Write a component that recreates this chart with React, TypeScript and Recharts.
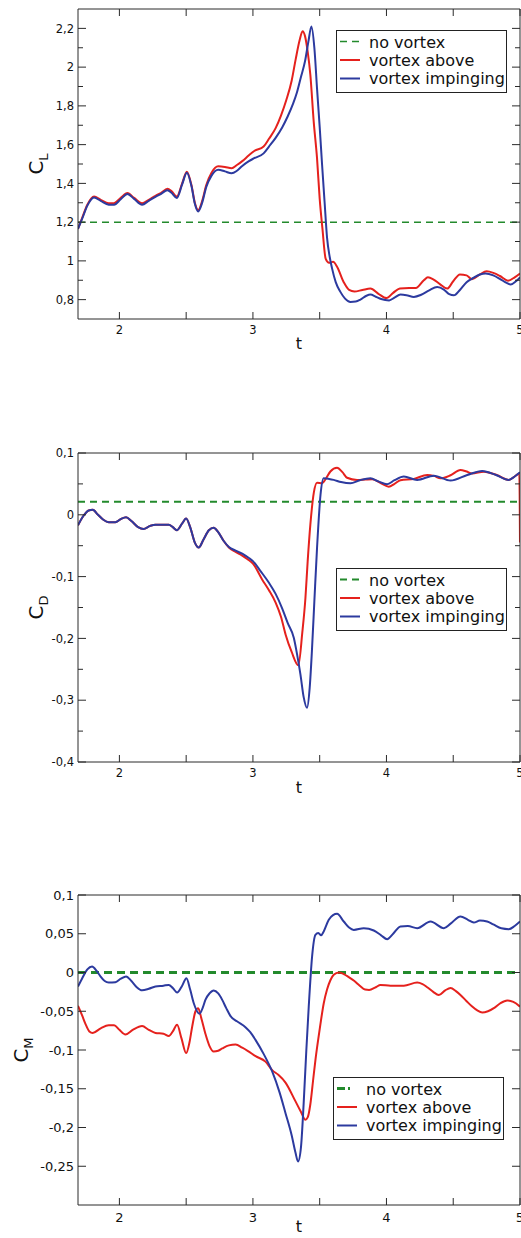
import React from 'react';
import { LineChart, Line, XAxis, YAxis, Legend } from 'recharts';

type Pt = [number, number];

// ---------- shared axis data ----------
const X_DOMAIN: [number, number] = [1.69, 5.0];
const X_TICKS = [2, 2.5, 3, 3.5, 4, 4.5, 5];
const X_LABELED = [2, 3, 4, 5];
const LEGEND_LABELS = ['no vortex', 'vortex above', 'vortex impinging'];

// ---------- C_L ----------
const CL_Y_DOMAIN: [number, number] = [0.7, 2.3];
const CL_Y_TICKS = [0.8, 0.9, 1.0, 1.1, 1.2, 1.3, 1.4, 1.5, 1.6, 1.7, 1.8, 1.9, 2.0, 2.1, 2.2];
const CL_Y_LABELED = [0.8, 1.0, 1.2, 1.4, 1.6, 1.8, 2.0, 2.2];
const clNone: Pt[] = [[1.69, 1.2], [5.0, 1.2]];
const clAbove: Pt[] = [
  [1.69, 1.165], [1.72, 1.22], [1.76, 1.29], [1.81, 1.332], [1.86, 1.315], [1.92, 1.297],
  [1.96, 1.298], [2.01, 1.325], [2.06, 1.35], [2.11, 1.325], [2.17, 1.297], [2.22, 1.315],
  [2.27, 1.336], [2.31, 1.35], [2.36, 1.372], [2.39, 1.36], [2.43, 1.332], [2.47, 1.4],
  [2.505, 1.46], [2.54, 1.39], [2.565, 1.3], [2.59, 1.262], [2.62, 1.31], [2.65, 1.39],
  [2.69, 1.455], [2.74, 1.488], [2.79, 1.485], [2.84, 1.478], [2.88, 1.495], [2.92, 1.515],
  [2.97, 1.545], [3.01, 1.567], [3.08, 1.59], [3.12, 1.63], [3.17, 1.685], [3.21, 1.75],
  [3.25, 1.83], [3.29, 1.93], [3.32, 2.04], [3.35, 2.14], [3.372, 2.185], [3.39, 2.16],
  [3.41, 2.08], [3.43, 1.96], [3.455, 1.72], [3.48, 1.53], [3.5, 1.32], [3.52, 1.17],
  [3.545, 1.01], [3.57, 0.99], [3.6, 0.995], [3.63, 0.97], [3.68, 0.89], [3.72, 0.85],
  [3.76, 0.842], [3.82, 0.85], [3.88, 0.857], [3.94, 0.83], [4.0, 0.808], [4.05, 0.835],
  [4.1, 0.857], [4.17, 0.86], [4.22, 0.86], [4.28, 0.9], [4.31, 0.915], [4.35, 0.905],
  [4.4, 0.88], [4.455, 0.857], [4.5, 0.895], [4.55, 0.93], [4.6, 0.925], [4.64, 0.905],
  [4.7, 0.93], [4.75, 0.946], [4.8, 0.938], [4.85, 0.922], [4.91, 0.898], [4.96, 0.915],
  [5.0, 0.935],
];
const clImpinging: Pt[] = [
  [1.69, 1.165], [1.72, 1.215], [1.76, 1.285], [1.81, 1.327], [1.86, 1.31], [1.92, 1.29],
  [1.96, 1.29], [2.01, 1.318], [2.06, 1.345], [2.11, 1.32], [2.17, 1.29], [2.22, 1.31],
  [2.27, 1.33], [2.31, 1.345], [2.36, 1.365], [2.39, 1.352], [2.43, 1.325], [2.47, 1.395],
  [2.505, 1.455], [2.54, 1.385], [2.565, 1.295], [2.59, 1.255], [2.62, 1.3], [2.65, 1.38],
  [2.69, 1.44], [2.74, 1.47], [2.79, 1.462], [2.84, 1.452], [2.88, 1.465], [2.92, 1.49],
  [2.97, 1.515], [3.01, 1.53], [3.08, 1.555], [3.12, 1.59], [3.17, 1.635], [3.22, 1.69],
  [3.26, 1.745], [3.3, 1.81], [3.33, 1.87], [3.36, 1.95], [3.39, 2.03], [3.415, 2.13],
  [3.438, 2.21], [3.46, 2.1], [3.48, 1.89], [3.5, 1.69], [3.518, 1.495], [3.537, 1.3],
  [3.555, 1.12], [3.575, 1.02], [3.593, 0.96], [3.62, 0.89], [3.655, 0.84], [3.69, 0.805],
  [3.73, 0.788], [3.77, 0.79], [3.805, 0.8], [3.85, 0.82], [3.88, 0.826], [3.92, 0.815],
  [3.96, 0.803], [4.02, 0.796], [4.06, 0.81], [4.105, 0.826], [4.15, 0.823], [4.205, 0.814],
  [4.26, 0.825], [4.32, 0.848], [4.38, 0.865], [4.43, 0.852], [4.47, 0.828], [4.505, 0.822],
  [4.55, 0.85], [4.6, 0.89], [4.65, 0.912], [4.7, 0.93], [4.742, 0.935], [4.8, 0.925],
  [4.854, 0.905], [4.9, 0.886], [4.93, 0.878], [4.97, 0.895], [5.0, 0.915],
];

// ---------- C_D ----------
const CD_Y_DOMAIN: [number, number] = [-0.4, 0.1];
const CD_Y_TICKS = [-0.4, -0.35, -0.3, -0.25, -0.2, -0.15, -0.1, -0.05, 0, 0.05, 0.1];
const CD_Y_LABELED = [-0.4, -0.3, -0.2, -0.1, 0, 0.1];
const cdNone: Pt[] = [[1.69, 0.021], [5.0, 0.021]];
const cdAbove: Pt[] = [
  [1.69, -0.017], [1.73, -0.002], [1.77, 0.007], [1.8, 0.008], [1.84, 0.0], [1.88, -0.008],
  [1.92, -0.012], [1.97, -0.012], [2.01, -0.007], [2.05, -0.004], [2.09, -0.01], [2.14, -0.02],
  [2.18, -0.023], [2.23, -0.018], [2.27, -0.016], [2.37, -0.016], [2.4, -0.02], [2.43, -0.025],
  [2.47, -0.014], [2.5, -0.006], [2.53, -0.02], [2.565, -0.045], [2.594, -0.053], [2.63, -0.04],
  [2.67, -0.025], [2.706, -0.021], [2.74, -0.028], [2.78, -0.042], [2.82, -0.053], [2.87, -0.06],
  [2.92, -0.066], [2.96, -0.072], [3.0, -0.079], [3.07, -0.105], [3.12, -0.122], [3.17, -0.142],
  [3.21, -0.165], [3.245, -0.194], [3.29, -0.222], [3.34, -0.2435], [3.37, -0.19], [3.393, -0.135],
  [3.41, -0.075], [3.43, -0.016], [3.456, 0.036], [3.48, 0.052], [3.518, 0.051], [3.545, 0.058],
  [3.58, 0.07], [3.63, 0.076], [3.67, 0.069], [3.705, 0.06], [3.78, 0.0565], [3.84, 0.057],
  [3.893, 0.0575], [3.96, 0.051], [4.017, 0.0455], [4.06, 0.05], [4.105, 0.056], [4.205, 0.058],
  [4.305, 0.0645], [4.355, 0.063], [4.405, 0.059], [4.48, 0.064], [4.554, 0.0726], [4.6, 0.07],
  [4.64, 0.067], [4.73, 0.0697], [4.83, 0.064], [4.916, 0.0565], [4.96, 0.062], [4.995, 0.067],
  [5.0, -0.045],
];
const cdImpinging: Pt[] = [
  [1.69, -0.017], [1.73, -0.002], [1.77, 0.007], [1.8, 0.008], [1.84, 0.0], [1.88, -0.008],
  [1.92, -0.012], [1.97, -0.012], [2.01, -0.007], [2.05, -0.004], [2.09, -0.01], [2.14, -0.02],
  [2.18, -0.023], [2.23, -0.018], [2.27, -0.016], [2.37, -0.016], [2.4, -0.02], [2.43, -0.025],
  [2.47, -0.014], [2.5, -0.006], [2.53, -0.02], [2.565, -0.045], [2.594, -0.053], [2.63, -0.04],
  [2.67, -0.025], [2.706, -0.021], [2.74, -0.028], [2.78, -0.042], [2.82, -0.052], [2.87, -0.058],
  [2.92, -0.063], [2.97, -0.07], [3.0, -0.075], [3.06, -0.092], [3.12, -0.11], [3.17, -0.128],
  [3.218, -0.151], [3.26, -0.175], [3.306, -0.199], [3.33, -0.225], [3.356, -0.2585], [3.38, -0.295],
  [3.405, -0.3123], [3.425, -0.28], [3.443, -0.215], [3.46, -0.14], [3.48, -0.054], [3.506, 0.032],
  [3.53, 0.059], [3.57, 0.058], [3.605, 0.0565], [3.66, 0.053], [3.73, 0.051], [3.8, 0.056],
  [3.88, 0.0593], [3.94, 0.054], [4.005, 0.0495], [4.06, 0.056], [4.13, 0.0619], [4.23, 0.0565],
  [4.355, 0.0633], [4.48, 0.0554], [4.605, 0.0645], [4.717, 0.071], [4.82, 0.0645], [4.916, 0.0565],
  [4.96, 0.062], [5.0, 0.0688],
];

// ---------- C_M ----------
const CM_Y_DOMAIN: [number, number] = [-0.3, 0.1];
const CM_Y_TICKS = [-0.25, -0.2, -0.15, -0.1, -0.05, 0, 0.05, 0.1];
const CM_Y_LABELED = [-0.25, -0.2, -0.15, -0.1, -0.05, 0, 0.05, 0.1];
const cmNone: Pt[] = [[1.69, 0.0], [5.0, 0.0]];
const cmAbove: Pt[] = [
  [1.69, -0.043], [1.72, -0.055], [1.745, -0.066], [1.775, -0.076], [1.8, -0.078], [1.86, -0.072],
  [1.92, -0.068], [1.96, -0.068], [2.0, -0.074], [2.045, -0.08], [2.1, -0.074], [2.17, -0.069],
  [2.22, -0.074], [2.27, -0.078], [2.33, -0.079], [2.37, -0.082], [2.4, -0.076], [2.432, -0.0675],
  [2.465, -0.085], [2.5, -0.104], [2.525, -0.09], [2.545, -0.07], [2.57, -0.05], [2.59, -0.046],
  [2.615, -0.06], [2.644, -0.079], [2.675, -0.095], [2.706, -0.102], [2.74, -0.101], [2.77, -0.098],
  [2.82, -0.094], [2.87, -0.093], [2.92, -0.097], [2.96, -0.101], [3.02, -0.108], [3.094, -0.115],
  [3.144, -0.126], [3.19, -0.132], [3.244, -0.142], [3.318, -0.166], [3.36, -0.18], [3.393, -0.19],
  [3.41, -0.187], [3.43, -0.17], [3.45, -0.14], [3.468, -0.113], [3.49, -0.085], [3.506, -0.066],
  [3.53, -0.04], [3.555, -0.022], [3.58, -0.01], [3.605, -0.003], [3.643, 0.0], [3.68, -0.002],
  [3.718, -0.006], [3.76, -0.011], [3.8, -0.017], [3.84, -0.022], [3.87, -0.0225], [3.92, -0.019],
  [3.955, -0.016], [4.03, -0.017], [4.13, -0.017], [4.23, -0.013], [4.27, -0.015], [4.305, -0.019],
  [4.35, -0.025], [4.392, -0.029], [4.44, -0.023], [4.48, -0.02], [4.52, -0.024], [4.554, -0.029],
  [4.6, -0.037], [4.642, -0.044], [4.68, -0.049], [4.717, -0.0516], [4.76, -0.05], [4.804, -0.046],
  [4.85, -0.04], [4.904, -0.0361], [4.95, -0.038], [5.0, -0.044],
];
const cmImpinging: Pt[] = [
  [1.69, -0.018], [1.72, -0.008], [1.76, 0.004], [1.795, 0.0077], [1.83, 0.002], [1.858, -0.005],
  [1.89, -0.011], [1.92, -0.0129], [1.97, -0.0125], [2.01, -0.008], [2.05, -0.005], [2.09, -0.011],
  [2.13, -0.019], [2.17, -0.023], [2.22, -0.021], [2.27, -0.018], [2.33, -0.017], [2.37, -0.016],
  [2.4, -0.02], [2.432, -0.0258], [2.47, -0.017], [2.502, -0.0073], [2.53, -0.022], [2.557, -0.0396],
  [2.6, -0.0533], [2.625, -0.045], [2.644, -0.0353], [2.675, -0.027], [2.706, -0.0232], [2.74, -0.027],
  [2.77, -0.0353], [2.8, -0.046], [2.831, -0.0559], [2.88, -0.063], [2.944, -0.0705], [2.98, -0.077],
  [3.019, -0.0869], [3.08, -0.105], [3.144, -0.1277], [3.2, -0.155], [3.244, -0.1815], [3.29, -0.21],
  [3.318, -0.232], [3.338, -0.2439], [3.36, -0.225], [3.38, -0.1686], [3.4, -0.1], [3.418, -0.0439],
  [3.443, 0.0206], [3.468, 0.0486], [3.49, 0.051], [3.51, 0.048], [3.53, 0.053], [3.568, 0.068],
  [3.6, 0.074], [3.63, 0.0757], [3.68, 0.0658], [3.72, 0.058], [3.755, 0.055], [3.83, 0.0572],
  [3.905, 0.0542], [3.96, 0.048], [4.005, 0.043], [4.05, 0.05], [4.105, 0.0594], [4.16, 0.06],
  [4.23, 0.0572], [4.33, 0.0658], [4.43, 0.0572], [4.48, 0.063], [4.554, 0.0723], [4.61, 0.068],
  [4.654, 0.0645], [4.7, 0.067], [4.754, 0.0658], [4.8, 0.062], [4.86, 0.057], [4.916, 0.0559],
  [4.96, 0.06], [5.0, 0.0658],
];

// ---------- styling ----------
const FONT = '"DejaVu Sans", "Liberation Sans", sans-serif';
const RED = '#e5211d';
const BLUE = '#2c3a9f';
const GREEN = '#238a2c';
const AXIS = '#2a2a2a';

const toRows = (pts: Pt[]) => pts.map(([t, v]) => ({ t, v }));
const fmt = (v: number) => String(Math.round(v * 1000) / 1000).replace('.', ',');
const isIn = (list: number[], v: number) => list.some((l) => Math.abs(l - v) < 1e-9);

const LeftTick = (props: any) => {
  const { x, y, payload, labeled, font } = props;
  const major = isIn(labeled, payload.value);
  return (
    <g>
      <line x1={x} y1={y} x2={x + (major ? 8 : 5)} y2={y} stroke={AXIS} strokeWidth={1} />
      {major && (
        <text x={x - 4} y={y + font * 0.36} textAnchor="end" fontSize={font} fontFamily={FONT} fill="#111">
          {fmt(payload.value)}
        </text>
      )}
    </g>
  );
};

const RightTick = (props: any) => {
  const { x, y, payload, labeled } = props;
  const major = isIn(labeled, payload.value);
  return <line x1={x} y1={y} x2={x - (major ? 8 : 5)} y2={y} stroke={AXIS} strokeWidth={1} />;
};

const BottomTick = (props: any) => {
  const { x, y, payload, font, base } = props;
  const major = isIn(X_LABELED, payload.value);
  return (
    <g>
      <line x1={x} y1={y} x2={x} y2={y - 7} stroke={AXIS} strokeWidth={1} />
      {major && (
        <text x={x} y={y + base} textAnchor="middle" fontSize={font} fontFamily={FONT} fill="#111">
          {fmt(payload.value)}
        </text>
      )}
    </g>
  );
};

const TopTick = (props: any) => {
  const { x, y } = props;
  return <line x1={x} y1={y} x2={x} y2={y + 7} stroke={AXIS} strokeWidth={1} />;
};

const YTitle = (props: any) => {
  const { px, py, main, sub } = props;
  return (
    <text transform={`translate(${px},${py}) rotate(-90)`} textAnchor="middle" fontSize={20} fontFamily={FONT} fill="#111">
      {main}
      <tspan fontSize={13} dy={5}>{sub}</tspan>
    </text>
  );
};

const XTitle = (props: any) => {
  const { px, py } = props;
  return (
    <text x={px} y={py} textAnchor="middle" fontSize={16} fontFamily={FONT} fill="#111">
      t
    </text>
  );
};

const LegendBox = ({ dotted, noneWidth }: { dotted: boolean; noneWidth: number }) => {
  const colors = [GREEN, RED, BLUE];
  return (
    <svg width={172} height={64} style={{ display: 'block' }}>
      <rect x={0.5} y={0.5} width={170} height={62} fill="#fff" stroke="#222" strokeWidth={1} />
      {LEGEND_LABELS.map((label, i) => {
        const ly = 11.5 + i * 18.5;
        return (
          <g key={label}>
            <line
              x1={4}
              x2={24}
              y1={ly}
              y2={ly}
              stroke={colors[i]}
              strokeWidth={i === 0 ? noneWidth : 2}
              strokeDasharray={i === 0 ? (dotted ? '8 3 2 20' : '7 5') : undefined}
            />
            <text x={33} y={17.5 + i * 18} fontSize={16} fontFamily={FONT} fill="#111">
              {label}
            </text>
          </g>
        );
      })}
    </svg>
  );
};

type PanelProps = {
  top: number;
  height: number;
  plotTop: number;
  plotBottom: number;
  yDomain: [number, number];
  yTicks: number[];
  yLabeled: number[];
  font: number;
  xBase: number;
  tBase: number;
  above: Pt[];
  impinging: Pt[];
  none: Pt[];
  noneWidth: number;
  noneDash: string;
  sub: string;
  titleX: number;
  legendLeft: number;
  legendTop: number;
  dotted: boolean;
};

const Panel = (p: PanelProps) => (
  <div style={{ position: 'absolute', left: 0, top: p.top, width: 521, height: p.height }}>
    <LineChart width={521} height={p.height} margin={{ top: p.plotTop - 1, right: 0, bottom: 0, left: 0 }}>
      <XAxis
        xAxisId="top"
        orientation="top"
        type="number"
        dataKey="t"
        domain={X_DOMAIN}
        allowDataOverflow
        ticks={X_TICKS}
        interval={0}
        height={1}
        tickSize={0}
        tickMargin={0}
        tickLine={false}
        axisLine={{ stroke: AXIS }}
        tick={(tp: any) => <TopTick {...tp} />}
      />
      <XAxis
        type="number"
        dataKey="t"
        domain={X_DOMAIN}
        allowDataOverflow
        ticks={X_TICKS}
        interval={0}
        height={p.height - p.plotBottom}
        tickSize={0}
        tickMargin={0}
        tickLine={false}
        axisLine={{ stroke: AXIS }}
        tick={(tp: any) => <BottomTick {...tp} font={p.font} base={p.xBase} />}
        label={<XTitle px={299} py={p.tBase} />}
      />
      <YAxis
        type="number"
        domain={p.yDomain}
        allowDataOverflow
        ticks={p.yTicks}
        interval={0}
        width={78}
        tickSize={0}
        tickMargin={0}
        tickLine={false}
        axisLine={{ stroke: AXIS }}
        tick={(tp: any) => <LeftTick {...tp} labeled={p.yLabeled} font={p.font} />}
        label={<YTitle px={p.titleX} py={(p.plotTop + p.plotBottom) / 2} main="C" sub={p.sub} />}
      />
      <YAxis
        yAxisId="right"
        orientation="right"
        type="number"
        domain={p.yDomain}
        allowDataOverflow
        ticks={p.yTicks}
        interval={0}
        width={1}
        tickSize={0}
        tickMargin={0}
        tickLine={false}
        axisLine={{ stroke: AXIS }}
        tick={(tp: any) => <RightTick {...tp} labeled={p.yLabeled} />}
      />
      <Line
        data={toRows(p.none)}
        dataKey="v"
        name="no vortex"
        type="linear"
        stroke={GREEN}
        strokeWidth={p.noneWidth}
        strokeDasharray={p.noneDash}
        dot={false}
        activeDot={false}
        isAnimationActive={false}
      />
      <Line
        data={toRows(p.above)}
        dataKey="v"
        name="vortex above"
        type="monotone"
        stroke={RED}
        strokeWidth={2}
        dot={false}
        activeDot={false}
        isAnimationActive={false}
      />
      <Line
        data={toRows(p.impinging)}
        dataKey="v"
        name="vortex impinging"
        type="monotone"
        stroke={BLUE}
        strokeWidth={2}
        dot={false}
        activeDot={false}
        isAnimationActive={false}
      />
      <Legend
        layout="horizontal"
        verticalAlign="middle"
        align="center"
        wrapperStyle={{ left: p.legendLeft, top: p.legendTop, width: 172, height: 64 }}
        content={() => <LegendBox dotted={p.dotted} noneWidth={p.noneWidth} />}
      />
    </LineChart>
  </div>
);

export default function App() {
  return (
    <div style={{ position: 'absolute', left: 0, top: 0, width: 521, height: 1238, background: '#fff', overflow: 'hidden' }}>
      <Panel
        top={0}
        height={360}
        plotTop={9}
        plotBottom={319}
        yDomain={CL_Y_DOMAIN}
        yTicks={CL_Y_TICKS}
        yLabeled={CL_Y_LABELED}
        font={11.5}
        xBase={14.5}
        tBase={349}
        above={clAbove}
        impinging={clImpinging}
        none={clNone}
        noneWidth={1.5}
        noneDash="7 5"
        sub="L"
        titleX={43}
        legendLeft={336}
        legendTop={30}
        dotted={false}
      />
      <Panel
        top={440}
        height={360}
        plotTop={13}
        plotBottom={322}
        yDomain={CD_Y_DOMAIN}
        yTicks={CD_Y_TICKS}
        yLabeled={CD_Y_LABELED}
        font={11.5}
        xBase={14.7}
        tBase={353}
        above={cdAbove}
        impinging={cdImpinging}
        none={cdNone}
        noneWidth={2}
        noneDash="7 5"
        sub="D"
        titleX={43}
        legendLeft={336}
        legendTop={128}
        dotted={false}
      />
      <Panel
        top={880}
        height={358}
        plotTop={15}
        plotBottom={325}
        yDomain={CM_Y_DOMAIN}
        yTicks={CM_Y_TICKS}
        yLabeled={CM_Y_LABELED}
        font={13}
        xBase={16.7}
        tBase={352}
        above={cmAbove}
        impinging={cmImpinging}
        none={cmNone}
        noneWidth={3}
        noneDash="8 5"
        sub="M"
        titleX={28}
        legendLeft={333}
        legendTop={197}
        dotted={true}
      />
    </div>
  );
}
